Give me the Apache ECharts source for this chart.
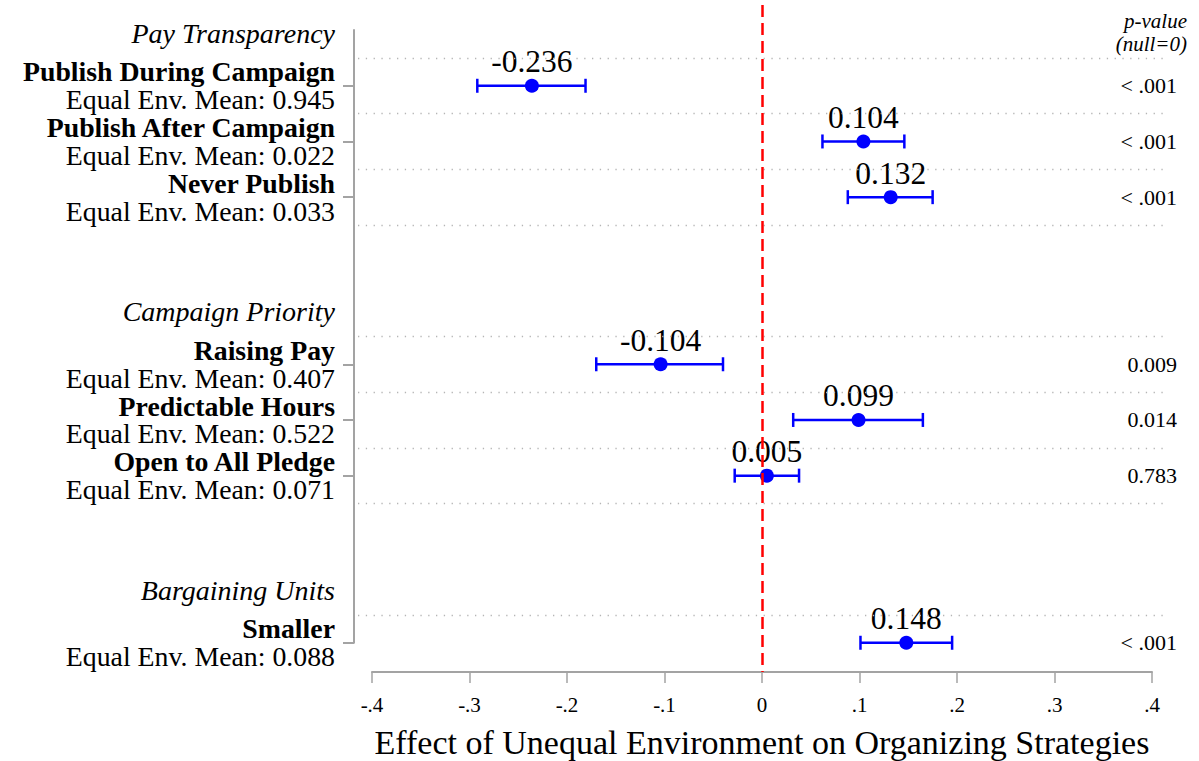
<!DOCTYPE html>
<html>
<head>
<meta charset="utf-8">
<script src="https://cdn.jsdelivr.net/npm/echarts@6/dist/echarts.min.js"></script>
<style>
    html, body { margin: 0; padding: 0; background: #fff; }
    #chart { width: 1199px; height: 761px; }
</style>
</head>
<body>
<div id="chart"></div>
<script>
    // groups and rows (row numbers run top to bottom)
    const groups = ['Pay Transparency', 'Campaign Priority', 'Bargaining Units'];
    const groupRows = [0, 10, 20];
    const items = ['Publish During Campaign', 'Publish After Campaign', 'Never Publish',
        'Raising Pay', 'Predictable Hours', 'Open to All Pledge', 'Smaller'];
    const itemRows = [2, 4, 6, 12, 14, 16, 22];
    const equalMeans = ['0.945', '0.022', '0.033', '0.407', '0.522', '0.071', '0.088'];
    const effects = [-0.236, 0.104, 0.132, -0.104, 0.099, 0.005, 0.148];
    const ciLow = [-0.292, 0.062, 0.088, -0.170, 0.032, -0.028, 0.101];
    const ciHigh = [-0.181, 0.146, 0.175, -0.040, 0.165, 0.038, 0.195];
    const pValues = ['< .001', '< .001', '< .001', '0.009', '0.014', '0.783', '< .001'];
    const gridRows = [1, 3, 5, 7, 11, 13, 15, 17, 21];
    const xTicks = [-0.4, -0.3, -0.2, -0.1, 0, 0.1, 0.2, 0.3, 0.4];

    const font = "'Liberation Serif', 'Times New Roman', serif";
    const axisGray = '#a3a3a3';

    // layout
    const H = 761;
    const plotTop = 5, plotBottom = 672;
    const yMin = -0.9, yMax = 23.05;
    const rowPx = (plotBottom - plotTop) / (yMax - yMin);
    const yAxisTop = plotTop + (0 - yMin) * rowPx;
    const yAxisBottom = plotTop + (22 - yMin) * rowPx;

    function tickText(v) {
        let r = Math.round(v * 10) / 10;
        if (r === 0) return '0';
        return (r < 0 ? '-' : '') + Math.abs(r).toFixed(1).replace(/^0/, '');
    }

    let myChart = echarts.init(document.getElementById('chart'), null, {renderer: 'svg'});

    let barData = [];
    let pointData = [];
    for (let i = 0; i < items.length; i++) {
        barData.push([itemRows[i], ciLow[i], ciHigh[i]]);
        pointData.push([effects[i], itemRows[i]]);
    }

    myChart.setOption({
        backgroundColor: '#fff',
        animation: false,
        textStyle: {fontFamily: font},
        graphic: [{
            type: 'text',
            right: 12,
            top: 10,
            style: {
                text: 'p-value',
                font: 'italic 21px ' + font,
                fill: '#000',
                textAlign: 'right'
            }
        }, {
            type: 'text',
            right: 12,
            top: 33,
            style: {
                text: '(null=0)',
                font: 'italic 21px ' + font,
                fill: '#000',
                textAlign: 'right'
            }
        }],
        grid: [
            // gridlines (slightly wider than the x axis)
            {left: 358, right: 31, top: plotTop, bottom: H - plotBottom, outerBoundsMode: 'none'},
            // left axis with the labels
            {left: 354, width: 10, top: yAxisTop, bottom: H - yAxisBottom, outerBoundsMode: 'none'},
            // data
            {left: 372, right: 47, top: plotTop, bottom: H - plotBottom, outerBoundsMode: 'none'}
        ],
        xAxis: [
            {gridIndex: 0, type: 'value', min: 0, max: 1, show: false},
            {gridIndex: 1, type: 'value', min: 0, max: 1, show: false},
            {
                gridIndex: 2, type: 'value', min: -0.4, max: 0.4, interval: 0.1,
                position: 'bottom',
                axisLine: {onZero: false, lineStyle: {color: axisGray, width: 2}},
                axisTick: {length: 11, lineStyle: {color: axisGray, width: 1.5}},
                splitLine: {show: false},
                axisLabel: {
                    margin: 22, fontSize: 21, color: '#000', fontFamily: font,
                    formatter: tickText
                },
                name: 'Effect of Unequal Environment on Organizing Strategies',
                nameLocation: 'middle',
                nameGap: 53,
                nameTextStyle: {fontSize: 34, lineHeight: 34, color: '#000', fontFamily: font}
            }
        ],
        yAxis: [
            {gridIndex: 0, type: 'value', min: yMin, max: yMax, inverse: true, show: false},
            {
                gridIndex: 1, type: 'value', min: 0, max: 22, inverse: true,
                position: 'left',
                axisLine: {show: true, onZero: false, lineStyle: {color: axisGray, width: 2}},
                axisTick: {show: true, length: 11, customValues: itemRows,
                    lineStyle: {color: axisGray, width: 2}},
                splitLine: {show: false},
                axisLabel: {
                    show: true,
                    margin: 19,
                    customValues: groupRows.concat(itemRows),
                    formatter: function (v) {
                        let g = groupRows.indexOf(v);
                        if (g >= 0) return '{h|' + groups[g] + '}';
                        let k = itemRows.indexOf(v);
                        if (k >= 0) return '{b|' + items[k] + '}\n{r|Equal Env. Mean: ' + equalMeans[k] + '}';
                        return '';
                    },
                    rich: {
                        h: {fontSize: 28, fontStyle: 'italic', fontFamily: font, color: '#000',
                            lineHeight: 28, align: 'right', padding: [6, 0, 0, 0]},
                        b: {fontSize: 27.8, fontWeight: 'bold', fontFamily: font, color: '#000',
                            lineHeight: 27.8, align: 'right'},
                        r: {fontSize: 27.8, fontFamily: font, color: '#000',
                            lineHeight: 27.8, align: 'right'}
                    }
                }
            },
            {
                gridIndex: 2, type: 'value', min: yMin, max: yMax, inverse: true,
                position: 'right',
                axisLine: {show: false},
                axisTick: {show: false},
                splitLine: {show: false},
                axisLabel: {
                    show: true,
                    margin: 25,
                    align: 'right',
                    customValues: itemRows,
                    fontSize: 22,
                    color: '#000',
                    fontFamily: font,
                    padding: [5, 0, 0, 0],
                    formatter: function (v) {
                        let k = itemRows.indexOf(v);
                        return k >= 0 ? pValues[k] : '';
                    }
                }
            }
        ],
        series: [
            {
                // dotted gridlines
                type: 'line',
                xAxisIndex: 0, yAxisIndex: 0,
                data: [],
                silent: true,
                markLine: {
                    silent: true,
                    symbol: ['none', 'none'],
                    label: {show: false},
                    lineStyle: {color: '#b5b5b5', width: 1.3, type: [1.3, 6.5]},
                    data: gridRows.map(function (r) { return {yAxis: r}; })
                }
            },
            {
                // zero line
                type: 'line',
                xAxisIndex: 2, yAxisIndex: 2,
                data: [],
                silent: true,
                markLine: {
                    silent: true,
                    symbol: ['none', 'none'],
                    label: {show: false},
                    lineStyle: {color: '#ff0000', width: 2.5, type: [12, 6]},
                    data: [{xAxis: 0}]
                }
            },
            {
                // confidence intervals
                type: 'custom',
                xAxisIndex: 2, yAxisIndex: 2,
                data: barData,
                renderItem: function (params, api) {
                    let row = api.value(0);
                    let p1 = api.coord([api.value(1), row]);
                    let p2 = api.coord([api.value(2), row]);
                    let h = 7;
                    let st = {stroke: '#0000ff', lineWidth: 2.5};
                    return {
                        type: 'group',
                        children: [
                            {type: 'line', shape: {x1: p1[0], y1: p1[1], x2: p2[0], y2: p2[1]}, style: st},
                            {type: 'line', shape: {x1: p1[0], y1: p1[1] - h, x2: p1[0], y2: p1[1] + h}, style: st},
                            {type: 'line', shape: {x1: p2[0], y1: p2[1] - h, x2: p2[0], y2: p2[1] + h}, style: st}
                        ]
                    };
                }
            },
            {
                type: 'scatter',
                xAxisIndex: 2, yAxisIndex: 2,
                data: pointData,
                symbol: 'circle',
                symbolSize: 14,
                itemStyle: {color: '#0000ff', opacity: 1},
                label: {
                    show: true,
                    position: 'top',
                    distance: 1,
                    fontSize: 31.5,
                    color: '#000',
                    fontFamily: font,
                    formatter: function (p) { return effects[p.dataIndex].toFixed(3); }
                }
            }
        ]
    });
</script>
</body>
</html>
